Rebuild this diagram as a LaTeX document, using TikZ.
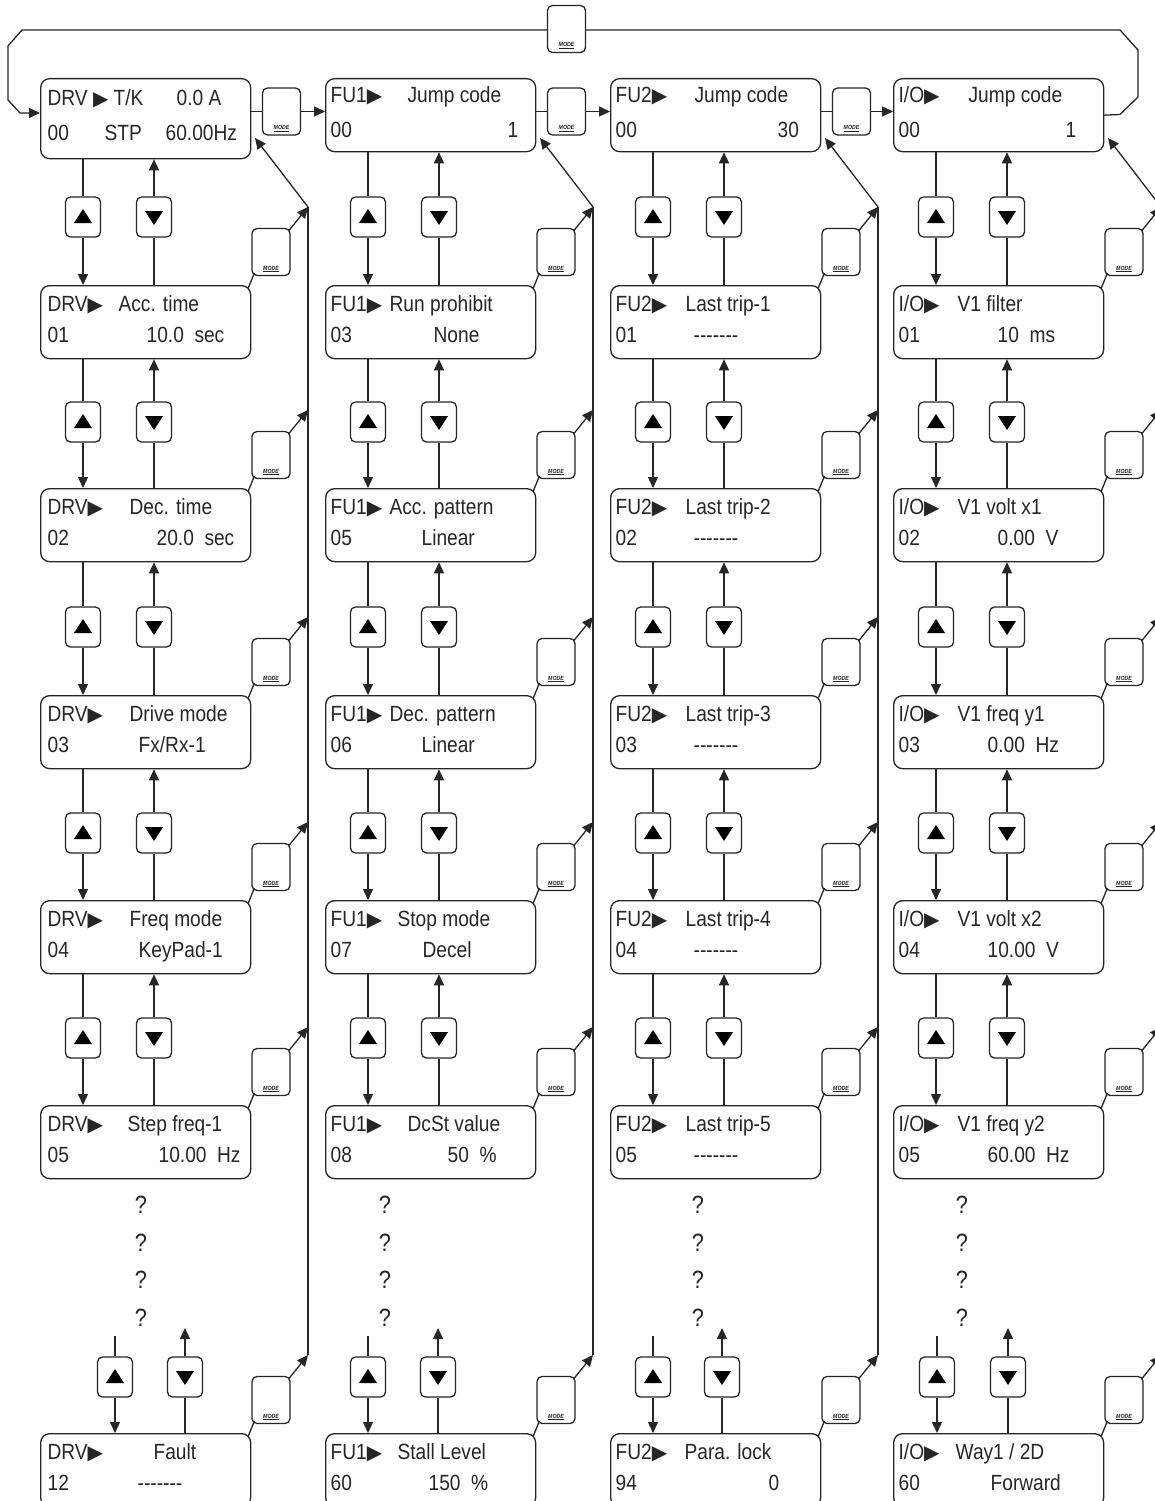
\documentclass[tikz,border=0pt]{standalone}
\usepackage{fontspec}
\usetikzlibrary{arrows.meta}
\newfontfamily\lcdfont[FakeStretch=0.87,Ligatures=TeXOff]{Liberation Sans}
\newfontfamily\symfont{DejaVu Sans}
\newcommand{\lcdarrow}{{\symfont\fontsize{20}{20}\selectfont ▶}}

\begin{document}
\begin{tikzpicture}[x=1pt, y=-1pt, line width=1.3pt, color=black!85,
    lcd/.style={draw, rounded corners=9pt, minimum width=210pt, minimum height=73pt, anchor=north west, inner sep=0pt},
    txt/.style={anchor=base west, inner sep=0pt, font=\lcdfont\fontsize{22}{22}\selectfont},
    key/.style={draw, fill=white, rounded corners=5pt, minimum width=35pt, minimum height=40pt, inner sep=0pt},
    upkey/.style={key, path picture={\fill[black, sharp corners] ([shift={(-9,6)}]path picture bounding box.center) -- ++(18,0) -- ++(-9,-14) -- cycle;}},
    dnkey/.style={key, path picture={\fill[black, sharp corners] ([shift={(-9,-6)}]path picture bounding box.center) -- ++(18,0) -- ++(-9,14) -- cycle;}},
    modekey/.style={draw, fill=white, rounded corners=5pt, minimum width=38pt, minimum height=47pt, inner sep=3pt, text height=36pt, text depth=0pt, font=\lcdfont\fontsize{6}{6}\selectfont\bfseries\itshape},
    arr/.style={-{Triangle[length=11pt,width=10pt]}},
    qm/.style={font=\lcdfont\fontsize{25}{25}\selectfont}]

    \path[use as bounding box, clip] (0,0) rectangle (1155,1501);
    \fill[white] (0,0) rectangle (1155,1501);

    % DRV 组
    \node[lcd, minimum height=80pt] (b10) at (40,78) {};
    \node[txt] at (47,106) {DRV \lcdarrow{} T/K};
    \node[txt] at (176,106) {0.0 A};
    \node[txt] at (47,140) {00};
    \node[txt] at (104,140) {STP};
    \node[txt] at (165,140) {60.00Hz};
    \foreach \r/\ty/\tx/\title/\num/\vx/\val in {1/285/118/Acc. time/01/146/10.0~~sec,
        2/488/129/Dec. time/02/156/20.0~~sec, 3/695/129/Drive mode/03/138/{Fx/Rx-1},
        4/900/129/Freq mode/04/138/KeyPad-1, 5/1105/127/Step freq-1/05/158/10.00~~Hz,
        6/1433/153/Fault/12/137/-------}
    {
        \node[lcd] (b1\r) at (40,\ty) {};
        \node[txt] at (47,\ty+26) {DRV\lcdarrow};
        \node[txt] at (\tx,\ty+26) {\title};
        \node[txt] at (47,\ty+57) {\num};
        \node[txt] at (\vx,\ty+57) {\val};
    }

    % FU1 组
    \node[lcd] (b20) at (325,78) {};
    \node[txt] at (330,103) {FU1\lcdarrow};
    \node[txt] at (407,103) {Jump code};
    \node[txt] at (330,137) {00};
    \node[txt] at (507,137) {1};
    \foreach \r/\ty/\tx/\title/\num/\vx/\val in {1/285/389/Run prohibit/03/433/None,
        2/488/389/Acc. pattern/05/421/Linear, 3/695/389/Dec. pattern/06/421/Linear,
        4/900/397/Stop mode/07/422/Decel, 5/1105/407/DcSt value/08/447/50~~\%,
        6/1433/397/Stall Level/60/428/150~~\%}
    {
        \node[lcd] (b2\r) at (325,\ty) {};
        \node[txt] at (330,\ty+26) {FU1\lcdarrow};
        \node[txt] at (\tx,\ty+26) {\title};
        \node[txt] at (330,\ty+57) {\num};
        \node[txt] at (\vx,\ty+57) {\val};
    }

    % FU2 组
    \node[lcd] (b30) at (610,78) {};
    \node[txt] at (615,103) {FU2\lcdarrow};
    \node[txt] at (694,103) {Jump code};
    \node[txt] at (615,137) {00};
    \node[txt] at (777,137) {30};
    \foreach \r/\ty/\tx/\title/\num/\vx/\val in {1/285/685/Last trip-1/01/693/-------,
        2/488/685/Last trip-2/02/693/-------, 3/695/685/Last trip-3/03/693/-------,
        4/900/685/Last trip-4/04/693/-------, 5/1105/685/Last trip-5/05/693/-------,
        6/1433/684/Para. lock/94/768/0}
    {
        \node[lcd] (b3\r) at (610,\ty) {};
        \node[txt] at (615,\ty+26) {FU2\lcdarrow};
        \node[txt] at (\tx,\ty+26) {\title};
        \node[txt] at (615,\ty+57) {\num};
        \node[txt] at (\vx,\ty+57) {\val};
    }

    % I/O 组
    \node[lcd] (b40) at (893,78) {};
    \node[txt] at (898,103) {I/O\lcdarrow};
    \node[txt] at (968,103) {Jump code};
    \node[txt] at (898,137) {00};
    \node[txt] at (1065,137) {1};
    \foreach \r/\ty/\tx/\title/\num/\vx/\val in {1/285/957/V1 filter/01/997/10~~ms,
        2/488/957/V1 volt x1/02/997/0.00~~V, 3/695/957/V1 freq y1/03/987/0.00~~Hz,
        4/900/957/V1 volt x2/04/987/10.00~~V, 5/1105/957/V1 freq y2/05/987/60.00~~Hz,
        6/1433/955/{Way1 / 2D}/60/990/Forward}
    {
        \node[lcd] (b4\r) at (893,\ty) {};
        \node[txt] at (898,\ty+26) {I/O\lcdarrow};
        \node[txt] at (\tx,\ty+26) {\title};
        \node[txt] at (898,\ty+57) {\num};
        \node[txt] at (\vx,\ty+57) {\val};
    }

    % 各组上下键与 MODE 键
    \foreach \c/\lx/\ux/\dx in {1/40/115/185, 2/325/368/438, 3/610/653/722, 4/893/937/1008}
    {
        \foreach \r/\p/\ky in {1/0/217, 2/1/422, 3/2/627, 4/3/833, 5/4/1038}
        {
            \node[upkey] (u\c\r) at (\lx+43,\ky) {};
            \node[dnkey] (d\c\r) at (\lx+114,\ky) {};
            \draw (u\c\r |- b\c\p.south) -- (u\c\r.north);
            \draw[arr] (u\c\r.south) -- (u\c\r |- b\c\r.north);
            \draw (d\c\r |- b\c\r.north) -- (d\c\r.south);
            \draw[arr] (d\c\r.north) -- (d\c\r |- b\c\p.south);
        }
        % 最后一项
        \node[upkey] (u\c6) at (\ux,1377) {};
        \node[dnkey] (d\c6) at (\dx,1377) {};
        \coordinate (s\c) at (\ux,1336);
        \coordinate (e\c) at (\dx,1328);
        \draw (s\c) -- (u\c6.north);
        \draw[arr] (u\c6.south) -- (u\c6 |- b\c6.north);
        \draw (d\c6 |- b\c6.north) -- (d\c6.south);
        \draw[arr] (d\c6.north) -- (e\c);
        % MODE 返回
        \foreach \r/\ty in {1/285, 2/488, 3/695, 4/900, 5/1105, 6/1433}
        {
            \node[modekey] (m\c\r) at (\lx+231,\ty-33) {\underline{MODE}};
            \coordinate (j\c\r) at (\lx+268,\ty-78);
            \draw ([shift={(-3,3)}]b\c\r.north east) -- ([shift={(3,-3)}]m\c\r.south west);
            \draw[arr] ([shift={(-2,3)}]m\c\r.north east) -- (j\c\r);
        }
        \draw (j\c1) -- (j\c6);
        \coordinate (k\c) at (\lx+215,138);
        \draw[arr] (j\c1) -- (k\c);
    }

    % 顶行 MODE 键
    \node[modekey] (t1) at (281.5,111.5) {\underline{MODE}};
    \node[modekey] (t2) at (566.5,111.5) {\underline{MODE}};
    \node[modekey] (t3) at (851.5,111.5) {\underline{MODE}};
    \foreach \a/\b in {1/2, 2/3, 3/4}
    {
        \draw (t\a -| b\a0.east) -- (t\a.west);
        \draw[arr] (t\a.east) -- (t\a -| b\b0.west);
    }

    % 回到 DRV 组
    \node[modekey] (t0) at (566.5,29) {\underline{MODE}};
    \coordinate (w1) at (40,113);
    \draw (b40.east) -- (1120,114.5) -- (1138,97) -- (1138,50) -- (1120,30) -- (t0.east |- 0,30);
    \draw[arr] (t0.west |- 0,30) -- (22,30) -- (8,46) -- (8,100) -- (20,113) -- (w1);

    % 省略号
    \foreach \qx in {141,385,698,962}
        \foreach \qy in {1205,1243,1280,1318}
            \node[qm] at (\qx,\qy) {?};
\end{tikzpicture}
\end{document}
